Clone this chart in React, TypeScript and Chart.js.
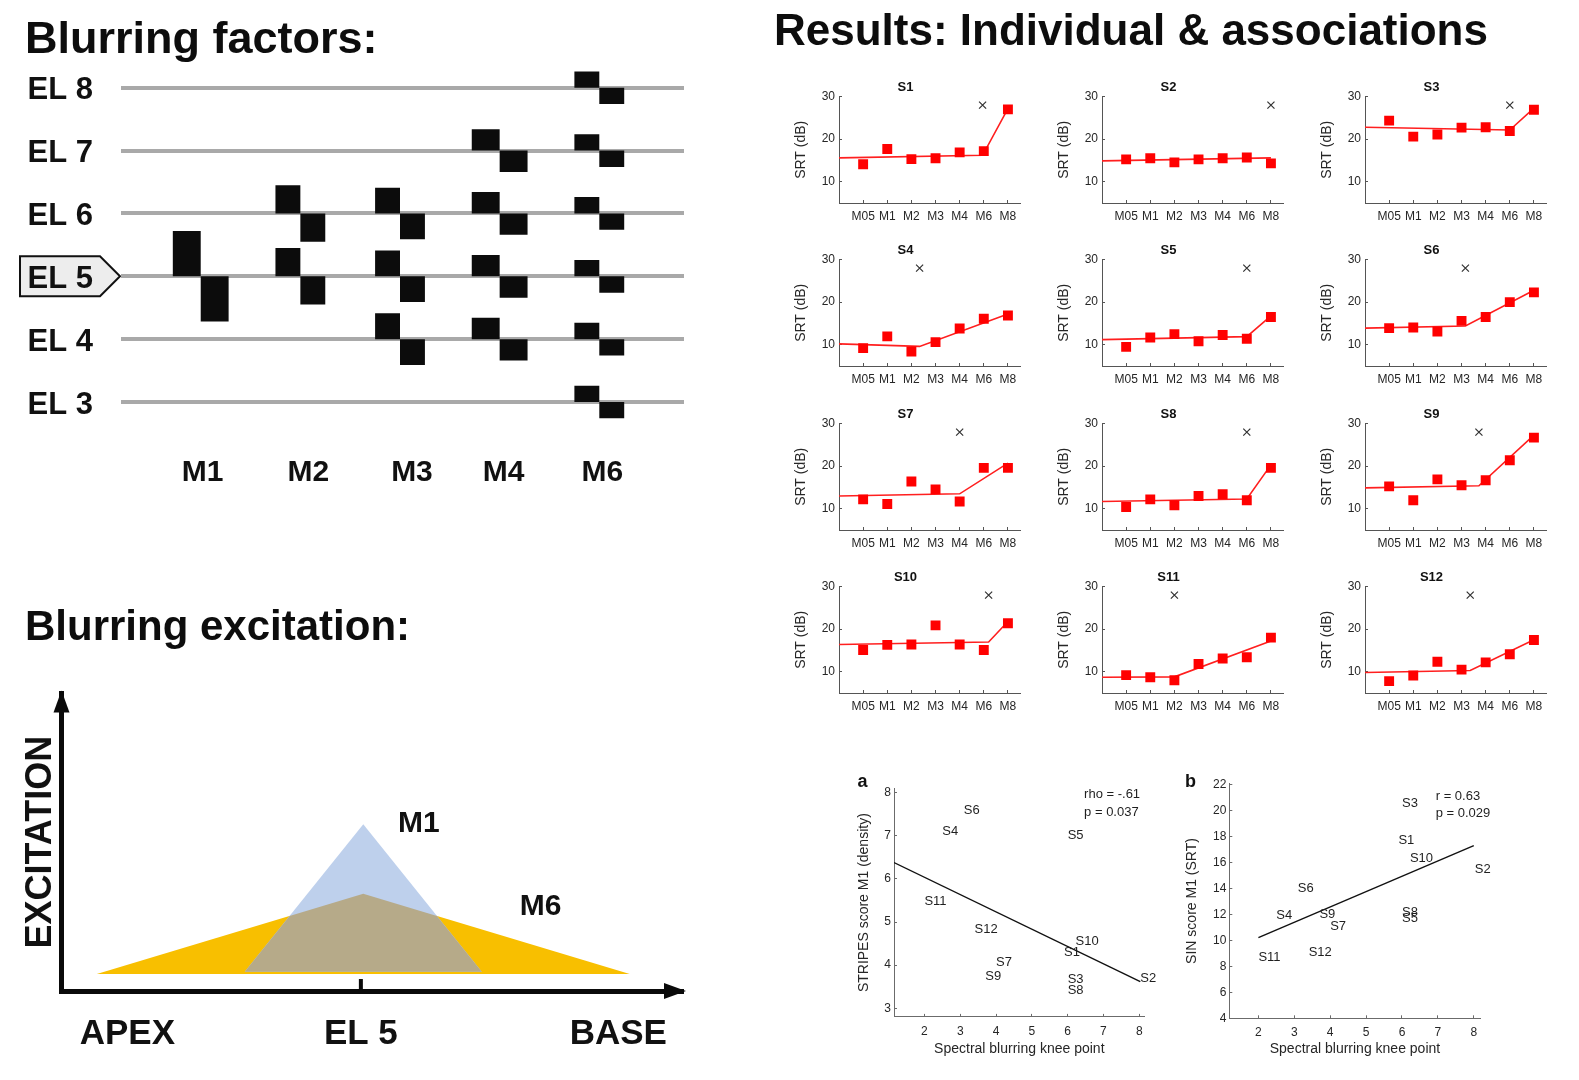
import React, { useEffect, useRef } from 'react';
import { Chart, registerables } from 'chart.js';

Chart.register(...registerables);

const SANS = "'Liberation Sans', Arial, Helvetica, sans-serif";
Chart.defaults.font.family = SANS;
Chart.defaults.color = '#000';

// ---------------- Blurring factors (schematic) ----------------
const modulationLabels = ['M1', 'M2', 'M3', 'M4', 'M6'];
const modulationLabelPositions = [1.02, 2.08, 3.12, 4.04, 5.03];
const electrodeLevels = [8, 7, 6, 5, 4, 3];
const electrodeLabels = ['EL 8', 'EL 7', 'EL 6', 'EL 5', 'EL 4', 'EL 3'];
const modulationElectrodes = [[5], [6, 5], [6, 5, 4], [7, 6, 5, 4], [8, 7, 6, 5, 4, 3]];
const pulseAmplitude = [0.72, 0.45, 0.41, 0.34, 0.26];
const pulseWidth = [0.28, 0.25, 0.25, 0.28, 0.25];
const referenceElectrode = 5;

// ---------------- Blurring excitation (schematic) ----------------
const excitationTickValues = [1.1, 5, 9.3];
const excitationTickLabels = ['APEX', 'EL 5', 'BASE'];
const m1Spread = [3.06, 7.02];
const m1Heights = [0.065, 0.56];
const m6Spread = [0.59, 9.49];
const m6Heights = [0.057, 0.327];
const el5Position = 5;
const excitationNames = ['M1', 'M6'];
const excitationNameX = [5.97, 8.0];
const excitationNameY = [0.563, 0.283];

// ---------------- Individual results ----------------
const subjectNames = ['S1', 'S2', 'S3', 'S4', 'S5', 'S6', 'S7', 'S8', 'S9', 'S10', 'S11', 'S12'];
const conditionLabels = ['M05', 'M1', 'M2', 'M3', 'M4', 'M6', 'M8'];
const srtS1 = [14.1, 17.7, 15.3, 15.5, 16.9, 17.2, 27.0];
const srtS2 = [15.25, 15.5, 14.55, 15.25, 15.5, 15.7, 14.3];
const srtS3 = [24.35, 20.6, 21.1, 22.7, 22.8, 21.9, 26.9];
const srtS4 = [9.2, 11.95, 8.4, 10.6, 13.8, 16.1, 16.85];
const srtS5 = [9.5, 11.7, 12.5, 10.8, 12.3, 11.4, 16.5];
const srtS6 = [13.9, 14.05, 13.1, 15.6, 16.5, 20.0, 22.3];
const srtS7 = [12.2, 11.1, 16.4, 14.55, 11.7, 19.6, 19.6];
const srtS8 = [10.4, 12.2, 10.8, 13.0, 13.4, 12.0, 19.6];
const srtS9 = [15.25, 12.0, 16.9, 15.5, 16.7, 21.4, 26.7];
const srtS10 = [15.1, 16.3, 16.4, 20.9, 16.4, 15.1, 21.4];
const srtS11 = [9.2, 8.7, 8.0, 11.8, 13.1, 13.4, 18.0];
const srtS12 = [7.8, 9.1, 12.35, 10.5, 12.2, 14.1, 17.45];
const srtBySubject = [srtS1, srtS2, srtS3, srtS4, srtS5, srtS6, srtS7, srtS8, srtS9, srtS10, srtS11, srtS12];
const kneePosition = [5.95, 7, 6, 3.34, 6, 4.16, 5, 6, 4.72, 6.2, 3, 4.36];
const fitStart = [15.6, 14.9, 22.8, 10.2, 11.2, 13.9, 13.0, 11.7, 14.9, 16.4, 8.7, 9.8];
const fitAtKnee = [16.2, 15.6, 22.15, 9.6, 11.9, 14.4, 13.5, 12.3, 15.4, 17.0, 8.8, 10.3];
const fitEnd = [27.2, 15.6, 27.3, 17.2, 16.8, 22.8, 20.7, 20.3, 27.3, 21.8, 17.2, 17.5];
const crossLevel = 28;
const srtTicks = [10, 20, 30];

// ---------------- Associations ----------------
const kneePoint = [5.9, 8.03, 6.0, 2.5, 6.0, 3.1, 4.0, 6.0, 3.7, 6.22, 2.0, 3.4];
const stripesScore = [4.29, 3.7, 3.66, 7.11, 7.01, 7.6, 4.06, 3.41, 3.73, 4.56, 5.49, 4.82];
const sinScore = srtBySubject.map((s) => s[1]);
const stripesFitX = [1.15, 8.03];
const stripesFitY = [6.38, 3.62];
const sinFitX = [2.0, 8.0];
const sinFitY = [10.23, 17.32];
const kneeTicks = [2, 3, 4, 5, 6, 7, 8];
const stripesTicks = [3, 4, 5, 6, 7, 8];
const sinTicks = [4, 6, 8, 10, 12, 14, 16, 18, 20, 22];
const stripesStats = ['rho = -.61', 'p = 0.037'];
const stripesStatsX = 6.46;
const stripesStatsY = [7.96, 7.54];
const sinStats = ['r = 0.63', 'p = 0.029'];
const sinStatsX = 6.94;
const sinStatsY = [21.15, 19.8];

type P = { x: number; y: number };

function clipPolygon(subject: P[], clip: P[]): P[] {
  let output = subject.slice();
  const n = clip.length;
  let area = 0;
  for (let i = 0; i < n; i++) {
    const a = clip[i], b = clip[(i + 1) % n];
    area += a.x * b.y - b.x * a.y;
  }
  const sign = area > 0 ? 1 : -1;
  for (let i = 0; i < n; i++) {
    const a = clip[i], b = clip[(i + 1) % n];
    const input = output;
    output = [];
    const inside = (p: P) => sign * ((b.x - a.x) * (p.y - a.y) - (b.y - a.y) * (p.x - a.x)) >= 0;
    const inter = (p: P, q: P): P => {
      const a1 = b.y - a.y, b1 = a.x - b.x, c1 = a1 * a.x + b1 * a.y;
      const a2 = q.y - p.y, b2 = p.x - q.x, c2 = a2 * p.x + b2 * p.y;
      const det = a1 * b2 - a2 * b1;
      return { x: (b2 * c1 - b1 * c2) / det, y: (a1 * c2 - a2 * c1) / det };
    };
    for (let j = 0; j < input.length; j++) {
      const cur = input[j], prev = input[(j + input.length - 1) % input.length];
      const ci = inside(cur), pi = inside(prev);
      if (ci) {
        if (!pi) output.push(inter(prev, cur));
        output.push(cur);
      } else if (pi) {
        output.push(inter(prev, cur));
      }
    }
  }
  return output;
}

const closed = (pts: P[]) => [...pts, pts[0]];

const triangle = (spread: number[], heights: number[]): P[] => [
  { x: spread[0], y: heights[0] },
  { x: (spread[0] + spread[1]) / 2, y: heights[1] },
  { x: spread[1], y: heights[0] },
];

const fixedTicks = (values: number[]) => (s: any) => {
  s.ticks = values.map((v) => ({ value: v }));
};

// MATLAB-style short inward tick marks
const inwardTicks = (color: string) => ({
  display: true,
  drawOnChartArea: false,
  drawTicks: true,
  tickLength: -3,
  color,
  lineWidth: 1,
});

type TextItem = { text: string; x: number; y: number; align: CanvasTextAlign; font: string; color: string };

const textAtData = (items: TextItem[]) => ({
  id: 'textAtData',
  afterDatasetsDraw(chart: any) {
    const { ctx, scales } = chart;
    ctx.save();
    ctx.textBaseline = 'middle';
    for (const it of items) {
      ctx.font = it.font;
      ctx.fillStyle = it.color;
      ctx.textAlign = it.align;
      ctx.fillText(it.text, scales.x.getPixelForValue(it.x), scales.y.getPixelForValue(it.y));
    }
    ctx.restore();
  },
});

const panelLetter = (letter: string, dx: number, dy: number) => ({
  id: 'panelLetter',
  afterDraw(chart: any) {
    const { ctx, chartArea } = chart;
    ctx.save();
    ctx.font = 'bold 18px ' + SANS;
    ctx.fillStyle = '#111';
    ctx.textAlign = 'center';
    ctx.textBaseline = 'middle';
    ctx.fillText(letter, chartArea.left + dx, chartArea.top + dy);
    ctx.restore();
  },
});

const referenceTag = {
  id: 'referenceTag',
  beforeDraw(chart: any) {
    const { ctx, chartArea, scales } = chart;
    const yc = scales.y.getPixelForValue(referenceElectrode);
    const tip = chartArea.left - 1;
    const body = chartArea.left - 21;
    const left = 20;
    const half = 20;
    ctx.save();
    ctx.beginPath();
    ctx.moveTo(left, yc - half);
    ctx.lineTo(body, yc - half);
    ctx.lineTo(tip, yc);
    ctx.lineTo(body, yc + half);
    ctx.lineTo(left, yc + half);
    ctx.closePath();
    ctx.fillStyle = '#ededed';
    ctx.fill();
    ctx.lineWidth = 2;
    ctx.strokeStyle = '#111';
    ctx.stroke();
    ctx.restore();
  },
};

const axisArrows = {
  id: 'axisArrows',
  afterDraw(chart: any) {
    const { ctx, chartArea } = chart;
    const { left, top, right, bottom } = chartArea;
    ctx.save();
    ctx.fillStyle = '#0a0a0a';
    ctx.beginPath();
    ctx.moveTo(left, top - 3);
    ctx.lineTo(left - 8, top + 19);
    ctx.lineTo(left + 8, top + 19);
    ctx.closePath();
    ctx.fill();
    ctx.beginPath();
    ctx.moveTo(right + 3, bottom);
    ctx.lineTo(right - 19, bottom - 8);
    ctx.lineTo(right - 19, bottom + 8);
    ctx.closePath();
    ctx.fill();
    ctx.restore();
  },
};

const baseOptions = {
  responsive: false,
  animation: false,
  events: [] as string[],
};

function blockDataset(x0: number, x1: number, y0: number, y1: number) {
  return {
    data: closed([
      { x: x0, y: y0 },
      { x: x1, y: y0 },
      { x: x1, y: y1 },
      { x: x0, y: y1 },
    ]),
    fill: 'shape',
    backgroundColor: '#0c0c0c',
    borderColor: 'rgba(0,0,0,0)',
    borderWidth: 0,
    pointRadius: 0,
    tension: 0,
  };
}

function factorsConfig(): any {
  const datasets: any[] = [];
  modulationLabels.forEach((_, m) => {
    const c = m + 1;
    const h = pulseAmplitude[m];
    const w = pulseWidth[m];
    modulationElectrodes[m].forEach((el) => {
      datasets.push(blockDataset(c - w, c, el, el + h));
      datasets.push(blockDataset(c, c + w, el - h, el));
    });
  });
  return {
    type: 'line',
    data: { datasets },
    options: {
      ...baseOptions,
      layout: { padding: { left: 25, right: 16, top: 0, bottom: 0 } },
      plugins: {
        legend: { display: false },
        tooltip: { enabled: false },
        title: {
          display: true,
          text: 'Blurring factors:',
          align: 'start',
          color: '#0d0d0d',
          font: { size: 45, weight: 'bold' },
          padding: { top: 13.8, bottom: -5.2 },
        },
      },
      scales: {
        x: {
          type: 'linear',
          min: 0.2,
          max: 5.85,
          grid: { display: false, drawTicks: false },
          border: { display: false },
          afterBuildTicks: fixedTicks(modulationLabelPositions),
          afterFit: (s: any) => {
            s.height = 50.3;
          },
          ticks: {
            autoSkip: false,
            maxRotation: 0,
            minRotation: 0,
            padding: 15.3,
            color: '#111',
            font: { size: 30, weight: 'bold' },
            callback: (_v: any, i: number) => modulationLabels[i],
          },
        },
        y: {
          type: 'linear',
          min: 2.4,
          max: 8.4,
          grid: { color: '#a9a9a9', lineWidth: 4, drawTicks: false },
          border: { display: false },
          afterBuildTicks: fixedTicks(electrodeLevels),
          afterFit: (s: any) => {
            s.width = 96;
          },
          ticks: {
            padding: 28,
            labelOffset: 3,
            color: '#111',
            font: { size: 31, weight: 'bold' },
            callback: (_v: any, i: number) => electrodeLabels[i],
          },
        },
      },
    },
    plugins: [referenceTag],
  };
}

function excitationConfig(): any {
  const m1Tri = triangle(m1Spread, m1Heights);
  const m6Tri = triangle(m6Spread, m6Heights);
  const overlap = clipPolygon(m1Tri, m6Tri);
  const labels: TextItem[] = excitationNames.map((t, i) => ({
    text: t,
    x: excitationNameX[i],
    y: excitationNameY[i],
    align: 'center',
    font: 'bold 30px ' + SANS,
    color: '#111',
  }));
  return {
    type: 'line',
    data: {
      datasets: [
        { data: closed(m6Tri), fill: 'shape', backgroundColor: '#f8bf00', borderColor: 'rgba(0,0,0,0)', borderWidth: 0, pointRadius: 0, order: 3 },
        { data: closed(m1Tri), fill: 'shape', backgroundColor: '#bed0ec', borderColor: 'rgba(0,0,0,0)', borderWidth: 0, pointRadius: 0, order: 2 },
        { data: closed(overlap), fill: 'shape', backgroundColor: '#b6aa89', borderColor: 'rgba(0,0,0,0)', borderWidth: 0, pointRadius: 0, order: 1 },
        {
          data: [
            { x: el5Position, y: 0 },
            { x: el5Position, y: 0.04 },
          ],
          borderColor: '#0a0a0a',
          borderWidth: 4,
          pointRadius: 0,
          order: 0,
        },
      ],
    },
    options: {
      ...baseOptions,
      layout: { padding: { left: 25, right: 17, top: 0, bottom: 0 } },
      plugins: {
        legend: { display: false },
        tooltip: { enabled: false },
        title: {
          display: true,
          text: 'Blurring excitation:',
          align: 'start',
          color: '#0d0d0d',
          font: { size: 42, weight: 'bold' },
          padding: { top: 23, bottom: 40 },
        },
      },
      scales: {
        x: {
          type: 'linear',
          min: 0,
          max: 10.38,
          grid: { display: false, drawTicks: false },
          border: { display: true, color: '#0a0a0a', width: 5 },
          afterBuildTicks: fixedTicks(excitationTickValues),
          afterFit: (s: any) => {
            s.height = 79;
          },
          ticks: {
            autoSkip: false,
            maxRotation: 0,
            minRotation: 0,
            padding: 22,
            color: '#111',
            font: { size: 35, weight: 'bold' },
            callback: (_v: any, i: number) => excitationTickLabels[i],
          },
        },
        y: {
          type: 'linear',
          min: 0,
          max: 1,
          grid: { display: false, drawTicks: false },
          border: { display: true, color: '#0a0a0a', width: 5 },
          ticks: { display: false },
          afterFit: (s: any) => {
            s.width = 36.5;
          },
          title: {
            display: true,
            text: 'EXCITATION',
            color: '#111',
            font: { size: 36, weight: 'bold' },
            padding: { top: -5.6, bottom: 0 },
          },
        },
      },
    },
    plugins: [textAtData(labels), axisArrows],
  };
}

function resultsTitleConfig(): any {
  return {
    type: 'scatter',
    data: { datasets: [] },
    options: {
      ...baseOptions,
      layout: { padding: { left: 14, top: 0, right: 0, bottom: 0 } },
      plugins: {
        legend: { display: false },
        tooltip: { enabled: false },
        title: {
          display: true,
          text: 'Results: Individual & associations',
          align: 'start',
          color: '#0d0d0d',
          font: { size: 44, weight: 'bold' },
          padding: { top: 6.1, bottom: 0 },
        },
      },
      scales: { x: { display: false }, y: { display: false } },
    },
  };
}

function subjectConfig(i: number): any {
  const srt = srtBySubject[i];
  return {
    type: 'scatter',
    data: {
      datasets: [
        {
          data: [
            { x: 0, y: fitStart[i] },
            { x: kneePosition[i], y: fitAtKnee[i] },
            { x: conditionLabels.length, y: fitEnd[i] },
          ],
          showLine: true,
          borderColor: '#ff1f1f',
          borderWidth: 1.6,
          pointRadius: 0,
          order: 2,
        },
        {
          data: srt.map((v, k) => ({ x: k + 1, y: v })),
          pointStyle: 'rect',
          pointRadius: 7,
          backgroundColor: '#ff0000',
          borderColor: '#ff0000',
          borderWidth: 0,
          order: 1,
        },
        {
          data: [{ x: kneePosition[i], y: crossLevel }],
          pointStyle: 'crossRot',
          pointRadius: 5,
          borderColor: '#333333',
          borderWidth: 1.2,
          order: 0,
        },
      ],
    },
    options: {
      ...baseOptions,
      layout: { padding: { left: 0, right: 5, top: 4, bottom: 2 } },
      plugins: {
        legend: { display: false },
        tooltip: { enabled: false },
        title: {
          display: true,
          text: subjectNames[i],
          color: '#111',
          font: { size: 13, weight: 'bold' },
          padding: { top: 1, bottom: 1 },
        },
      },
      scales: {
        x: {
          type: 'linear',
          min: 0,
          max: 7.5,
          grid: inwardTicks('#555'),
          border: { color: '#555', width: 1 },
          afterBuildTicks: fixedTicks(conditionLabels.map((_, k) => k + 1)),
          afterFit: (s: any) => {
            s.height = 22;
          },
          ticks: {
            autoSkip: false,
            maxRotation: 0,
            minRotation: 0,
            padding: 9.6,
            color: '#262626',
            font: { size: 12 },
            callback: (_v: any, k: number) => conditionLabels[k],
          },
        },
        y: {
          type: 'linear',
          min: 5,
          max: 30,
          grid: inwardTicks('#555'),
          border: { color: '#555', width: 1 },
          afterBuildTicks: fixedTicks(srtTicks),
          afterFit: (s: any) => {
            s.width = 50;
          },
          ticks: { padding: 7, color: '#262626', font: { size: 12 } },
          title: {
            display: true,
            text: 'SRT (dB)',
            color: '#262626',
            font: { size: 14 },
            padding: { top: 4, bottom: 0 },
          },
        },
      },
    },
  };
}

function associationConfig(o: any): any {
  const names: TextItem[] = subjectNames.map((n, k) => ({
    text: n,
    x: kneePoint[k],
    y: o.y[k],
    align: 'left',
    font: '13px ' + SANS,
    color: '#1f1f1f',
  }));
  const stats: TextItem[] = o.stats.map((t: string, k: number) => ({
    text: t,
    x: o.statsX,
    y: o.statsY[k],
    align: 'left',
    font: '13px ' + SANS,
    color: '#1f1f1f',
  }));
  return {
    type: 'scatter',
    data: {
      datasets: [
        {
          data: o.fitX.map((x: number, k: number) => ({ x, y: o.fitY[k] })),
          showLine: true,
          borderColor: '#111',
          borderWidth: 1.4,
          pointRadius: 0,
        },
        {
          data: kneePoint.map((x, k) => ({ x, y: o.y[k] })),
          pointRadius: 0,
        },
      ],
    },
    options: {
      ...baseOptions,
      layout: { padding: o.padding },
      plugins: { legend: { display: false }, tooltip: { enabled: false } },
      scales: {
        x: {
          type: 'linear',
          min: o.xMin,
          max: o.xMax,
          grid: inwardTicks('#6b6b6b'),
          border: { color: '#6b6b6b', width: 1 },
          afterBuildTicks: fixedTicks(kneeTicks),
          afterFit: (s: any) => {
            s.height = 42;
          },
          ticks: { autoSkip: false, maxRotation: 0, minRotation: 0, padding: 10.3, color: '#262626', font: { size: 12 } },
          title: {
            display: true,
            text: 'Spectral blurring knee point',
            color: '#262626',
            font: { size: 14 },
            padding: { top: 0, bottom: o.xTitlePad },
          },
        },
        y: {
          type: 'linear',
          min: o.yMin,
          max: o.yMax,
          grid: inwardTicks('#6b6b6b'),
          border: { color: '#6b6b6b', width: 1 },
          afterBuildTicks: fixedTicks(o.yTicks),
          afterFit: (s: any) => {
            s.width = o.yWidth;
          },
          ticks: { padding: 6, color: '#262626', font: { size: 12 } },
          title: {
            display: true,
            text: o.yTitle,
            color: '#262626',
            font: { size: 14 },
            padding: { top: o.yTitlePad, bottom: 0 },
          },
        },
      },
    },
    plugins: [textAtData([...names, ...stats]), panelLetter(o.letter, o.letterDx, o.letterDy)],
  };
}

const stripesConfig = () =>
  associationConfig({
    y: stripesScore,
    yMin: 2.8,
    yMax: 8.1,
    yTicks: stripesTicks,
    yTitle: 'STRIPES score M1 (density)',
    xMin: 1.15,
    xMax: 8.15,
    fitX: stripesFitX,
    fitY: stripesFitY,
    stats: stripesStats,
    statsX: stripesStatsX,
    statsY: stripesStatsY,
    letter: 'a',
    letterDx: -31.5,
    letterDy: -6.4,
    padding: { left: 0, top: 28.4, right: 15.4, bottom: 2.1 },
    yWidth: 44,
    yTitlePad: 5.6,
    xTitlePad: 1.5,
  });

const sinConfig = () =>
  associationConfig({
    y: sinScore,
    yMin: 4,
    yMax: 22.1,
    yTicks: sinTicks,
    yTitle: 'SIN score M1 (SRT)',
    xMin: 1.19,
    xMax: 8.19,
    fitX: sinFitX,
    fitY: sinFitY,
    stats: sinStats,
    statsX: sinStatsX,
    statsY: sinStatsY,
    letter: 'b',
    letterDx: -38.8,
    letterDy: -1.7,
    padding: { left: 0, top: 23.7, right: 19.4, bottom: 0.7 },
    yWidth: 49.3,
    yTitlePad: 3.6,
    xTitlePad: 2.9,
  });

function ChartCanvas({ x, y, w, h, make }: { x: number; y: number; w: number; h: number; make: () => any }) {
  const ref = useRef<HTMLCanvasElement | null>(null);
  useEffect(() => {
    if (!ref.current) return;
    const chart = new Chart(ref.current, make());
    return () => chart.destroy();
  }, []);
  return (
    <canvas
      ref={ref}
      width={w}
      height={h}
      style={{ position: 'absolute', left: x, top: y, width: w, height: h }}
    />
  );
}

export default function App() {
  return (
    <div
      style={{
        position: 'absolute',
        left: 0,
        top: 0,
        width: 1579,
        height: 1080,
        background: '#ffffff',
        overflow: 'hidden',
      }}
    >
      <ChartCanvas x={0} y={0} w={700} h={490} make={factorsConfig} />
      <ChartCanvas x={0} y={580} w={700} h={490} make={excitationConfig} />
      <ChartCanvas x={760} y={0} w={800} h={62} make={resultsTitleConfig} />
      {subjectNames.map((_, i) => (
        <ChartCanvas
          key={i}
          x={789 + (i % 3) * 263}
          y={Math.round(75 + Math.floor(i / 3) * 163.3)}
          w={238}
          h={152}
          make={() => subjectConfig(i)}
        />
      ))}
      <ChartCanvas x={850} y={760} w={310} h={301} make={stripesConfig} />
      <ChartCanvas x={1180} y={760} w={320} h={301} make={sinConfig} />
    </div>
  );
}
